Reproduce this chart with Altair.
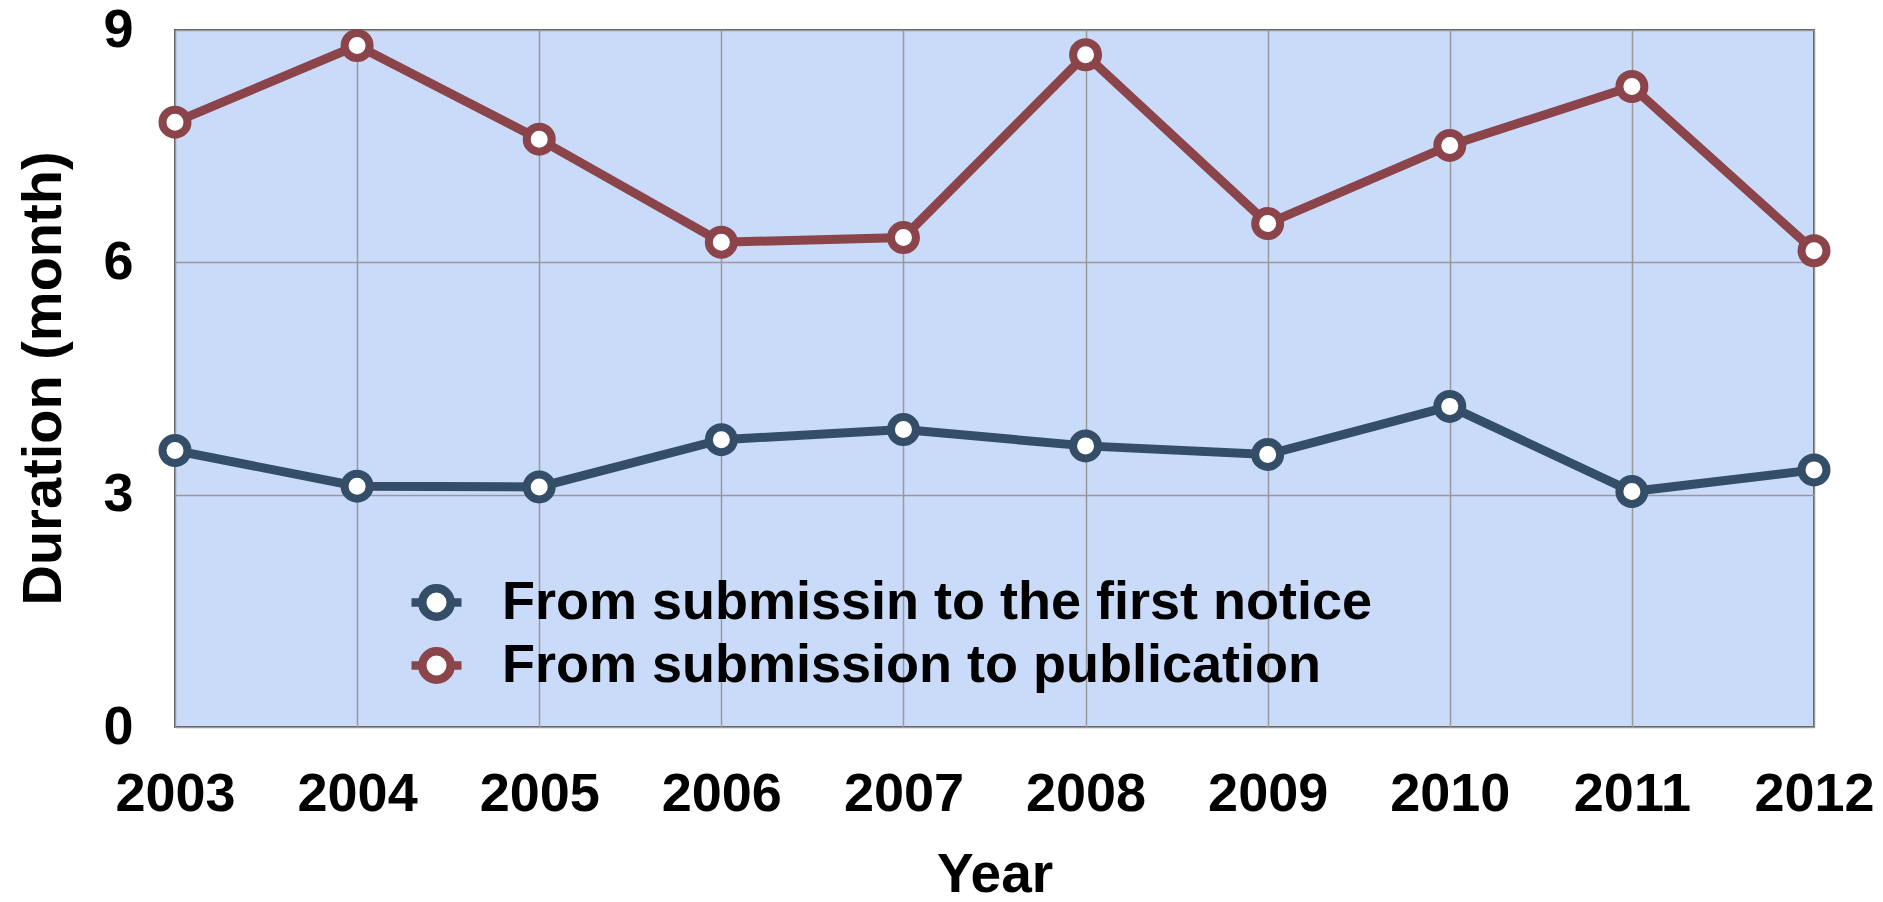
import altair as alt
import pandas as pd

years = [2003, 2004, 2005, 2006, 2007, 2008, 2009, 2010, 2011, 2012]
first_notice = [3.57, 3.11, 3.10, 3.71, 3.84, 3.63, 3.52, 4.14, 3.04, 3.32]
publication = [7.81, 8.80, 7.59, 6.26, 6.32, 8.68, 6.50, 7.51, 8.27, 6.15]
series_names = ["From submissin to the first notice", "From submission to publication"]
series_colors = ["#354E68", "#8B454A"]
y_ticks = [0, 3, 6, 9]

rows = []
for name, vals in zip(series_names, [first_notice, publication]):
    for yr, v in zip(years, vals):
        rows.append({"Year": yr, "Duration": v, "Series": name})
df = pd.DataFrame(rows)

FONT = "Liberation Sans"

x_enc = alt.X(
    "Year:Q",
    scale=alt.Scale(domain=[years[0], years[-1]], nice=False, zero=False),
    axis=alt.Axis(
        values=years, format="d", title="Year", grid=True, gridColor="#999999", gridWidth=1.5,
        domain=False, ticks=False, labelFontSize=54, labelFont=FONT, labelFontWeight="bold",
        labelColor="black", labelPadding=40, labelFlush=False,
        titleFontSize=55, titleFont=FONT, titleFontWeight="bold", titleColor="black",
        titleBaseline="middle", titleY=147,
    ),
)
y_enc = alt.Y(
    "Duration:Q",
    scale=alt.Scale(domain=[0, 9], nice=False),
    axis=alt.Axis(
        values=y_ticks, title="Duration (month)", grid=True, gridColor="#999999", gridWidth=1.5,
        domain=False, ticks=False, labelFontSize=54, labelFont=FONT, labelFontWeight="bold",
        labelColor="black", labelPadding=42,
        titleFontSize=56, titleFont=FONT, titleFontWeight="bold", titleColor="black",
        titleBaseline="middle", titleAngle=-90, titleX=-132, titleY=348,
    ),
)
color_enc = alt.Color(
    "Series:N",
    scale=alt.Scale(domain=series_names, range=series_colors),
    legend=alt.Legend(
        title=None, orient="none", legendX=232, legendY=543,
        symbolType="M -1 0 L -0.57 0 M 0.57 0 L 1 0 M 0.57 0 A 0.57 0.57 0 1 1 -0.57 0 A 0.57 0.57 0 1 1 0.57 0 Z",
        symbolSize=2500, symbolStrokeWidth=8.5, symbolFillColor="white",
        labelFontSize=54, labelFont=FONT, labelFontWeight="bold", labelColor="black",
        labelOffset=36, rowPadding=0, labelLimit=2000,
    ),
)

base = alt.Chart(df)
lines = base.mark_line(strokeWidth=9).encode(x=x_enc, y=y_enc, color=color_enc)
points = base.mark_point(filled=False, fill="white", fillOpacity=1, size=625, strokeWidth=8, opacity=1).encode(
    x=x_enc, y=y_enc, color=color_enc
)

chart = (
    alt.layer(lines, points)
    .properties(
        width=1639, height=697,
        autosize=alt.AutoSizeParams(type="none"),
        padding={"left": 167, "top": 22, "right": 60, "bottom": 167},
        background="white",
    )
    .configure_view(fill="#CADBFA", stroke="#5A5A5A", strokeWidth=2)
)

chart.save("out.html", embed_options={"renderer": "svg", "actions": False})
